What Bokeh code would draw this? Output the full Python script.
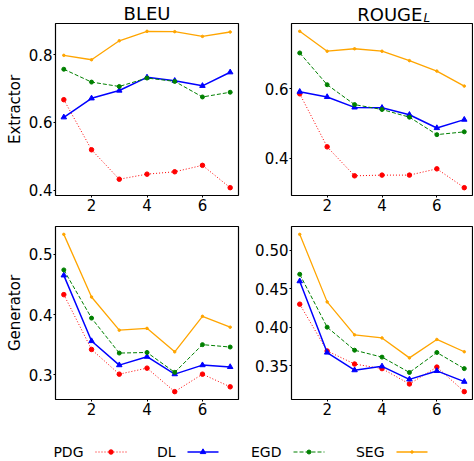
from bokeh.plotting import figure
from bokeh.layouts import column, row
from bokeh.models import Range1d, FixedTicker
from bokeh.core.properties import value
from bokeh.embed import file_html
from bokeh.resources import INLINE

steps = [1, 2, 3, 4, 5, 6, 7]
series_names = ["PDG", "DL", "EGD", "SEG"]
column_titles = ["BLEU", "ROUGE"]
rouge_subscript = "L"

bleu_ext_pdg = [0.667, 0.519, 0.432, 0.447, 0.454, 0.473, 0.407]
bleu_ext_dl = [0.615, 0.671, 0.694, 0.733, 0.723, 0.708, 0.748]
bleu_ext_egd = [0.757, 0.719, 0.706, 0.731, 0.721, 0.675, 0.689]
bleu_ext_seg = [0.798, 0.785, 0.841, 0.869, 0.868, 0.854, 0.867]

rouge_ext_pdg = [0.585, 0.433, 0.350, 0.352, 0.352, 0.370, 0.316]
rouge_ext_dl = [0.591, 0.576, 0.546, 0.545, 0.525, 0.487, 0.511]
rouge_ext_egd = [0.702, 0.611, 0.554, 0.540, 0.518, 0.468, 0.476]
rouge_ext_seg = [0.764, 0.707, 0.714, 0.707, 0.680, 0.650, 0.607]

bleu_gen_pdg = [0.433, 0.342, 0.301, 0.311, 0.272, 0.301, 0.280]
bleu_gen_dl = [0.465, 0.356, 0.316, 0.330, 0.301, 0.316, 0.313]
bleu_gen_egd = [0.474, 0.394, 0.336, 0.337, 0.304, 0.350, 0.346]
bleu_gen_seg = [0.533, 0.429, 0.374, 0.377, 0.338, 0.397, 0.379]

rouge_gen_pdg = [0.430, 0.369, 0.352, 0.346, 0.326, 0.348, 0.316]
rouge_gen_dl = [0.460, 0.367, 0.344, 0.349, 0.332, 0.343, 0.329]
rouge_gen_egd = [0.469, 0.400, 0.370, 0.361, 0.341, 0.367, 0.346]
rouge_gen_seg = [0.521, 0.433, 0.390, 0.386, 0.360, 0.384, 0.368]

x_ticks = [2, 4, 6]
bleu_ext_ticks = [0.4, 0.6, 0.8]
bleu_ext_tick_labels = ["0.4", "0.6", "0.8"]
rouge_ext_ticks = [0.4, 0.6]
rouge_ext_tick_labels = ["0.4", "0.6"]
bleu_gen_ticks = [0.3, 0.4, 0.5]
bleu_gen_tick_labels = ["0.3", "0.4", "0.5"]
rouge_gen_ticks = [0.35, 0.40, 0.45, 0.50]
rouge_gen_tick_labels = ["0.35", "0.40", "0.45", "0.50"]

FONT = "DejaVu Sans"
STYLES = {
    "PDG": dict(color="#ff0000", dash="1 2", width=1.0, marker="circle", size=4.5),
    "DL": dict(color="#0000ff", dash="solid", width=1.5, marker="triangle", size=5.5),
    "EGD": dict(color="#008000", dash="4 2", width=1.0, marker="circle", size=4),
    "SEG": dict(color="#ffa500", dash="solid", width=1.3, marker="circle", size=2.5),
}
W_LEFT, W_RIGHT = 240, 233
W_TOTAL = W_LEFT + W_RIGHT


def make_panel(series, ticks, tick_labels, width, height, mbl, mbr, mbt, mbb, ylabel=None):
    allv = [v for s in series.values() for v in s]
    lo, hi = min(allv), max(allv)
    pad = (hi - lo) * 0.05
    p = figure(width=width, height=height, output_backend="svg", toolbar_location=None,
               x_range=Range1d(0.7, 7.3), y_range=Range1d(lo - pad, hi + pad),
               min_border_left=mbl, min_border_right=mbr, min_border_top=mbt, min_border_bottom=mbb)
    p.grid.visible = False
    p.outline_line_color = "black"
    p.outline_line_width = 1.2
    p.background_fill_color = "white"
    p.border_fill_color = "white"
    for name in series_names:
        st = STYLES[name]
        p.line(steps, series[name], line_color=st["color"], line_width=st["width"], line_dash=st["dash"])
        p.scatter(steps, series[name], marker=st["marker"], size=st["size"],
                  fill_color=st["color"], line_color=st["color"], line_width=1)
    p.xaxis.ticker = FixedTicker(ticks=x_ticks)
    p.yaxis.ticker = FixedTicker(ticks=ticks)
    p.yaxis.major_label_overrides = {t: l for t, l in zip(ticks, tick_labels)}
    for ax in (p.xaxis[0], p.yaxis[0]):
        ax.axis_line_color = None
        ax.minor_tick_line_color = None
        ax.major_tick_line_color = "black"
        ax.major_tick_out = 2
        ax.major_tick_in = 0
        ax.major_label_text_font = FONT
        ax.major_label_text_font_size = "15px"
        ax.major_label_text_color = "black"
    p.yaxis.major_label_standoff = 1
    p.xaxis.major_label_standoff = 1
    if ylabel:
        p.yaxis.axis_label = ylabel
        p.yaxis.axis_label_text_font = FONT
        p.yaxis.axis_label_text_font_size = "15px"
        p.yaxis.axis_label_text_font_style = "normal"
        p.yaxis.axis_label_text_color = "black"
        p.yaxis.axis_label_standoff = 2
    return p


# left panel keeps its own title
p1 = make_panel({"PDG": bleu_ext_pdg, "DL": bleu_ext_dl, "EGD": bleu_ext_egd, "SEG": bleu_ext_seg},
                bleu_ext_ticks, bleu_ext_tick_labels, W_LEFT, 220, 55, 2, 23, 25, "Extractor")
p1.title.text = column_titles[0]
p1.title.align = "center"
p1.title.standoff = 0
p1.title.vertical_align = "bottom"
p1.title.text_font = FONT
p1.title.text_font_size = "18px"
p1.title.text_font_style = "normal"
p1.title.text_color = "black"

# right column: header strip with ROUGE + subscript L, then the panel
HEAD_H = 22
head = figure(width=W_RIGHT, height=HEAD_H, output_backend="svg", toolbar_location=None,
              x_range=Range1d(0, W_RIGHT), y_range=Range1d(HEAD_H, 0),
              x_axis_location=None, y_axis_location=None,
              min_border_left=0, min_border_right=0, min_border_top=0, min_border_bottom=0)
head.grid.visible = False
head.outline_line_color = None
head.text(x=[168.5], y=[13.5], text=[column_titles[1]], text_align="right", text_baseline="middle",
          text_font=value(FONT), text_font_size="18px", text_color="black")
head.text(x=[170], y=[17.5], text=[rouge_subscript], text_align="left", text_baseline="middle",
          text_font=value(FONT), text_font_size="12px", text_font_style="italic", text_color="black")

p2 = make_panel({"PDG": rouge_ext_pdg, "DL": rouge_ext_dl, "EGD": rouge_ext_egd, "SEG": rouge_ext_seg},
                rouge_ext_ticks, rouge_ext_tick_labels, W_RIGHT, 198, 51, 1, 1, 25)
p3 = make_panel({"PDG": bleu_gen_pdg, "DL": bleu_gen_dl, "EGD": bleu_gen_egd, "SEG": bleu_gen_seg},
                bleu_gen_ticks, bleu_gen_tick_labels, W_LEFT, 201, 55, 2, 6, 22, "Generator")
p4 = make_panel({"PDG": rouge_gen_pdg, "DL": rouge_gen_dl, "EGD": rouge_gen_egd, "SEG": rouge_gen_seg},
                rouge_gen_ticks, rouge_gen_tick_labels, W_RIGHT, 201, 51, 1, 6, 22)

# legend (label first, then handle, like the reference)
LEG_H = 40
leg = figure(width=W_TOTAL, height=LEG_H, output_backend="svg", toolbar_location=None,
             x_range=Range1d(0, W_TOTAL), y_range=Range1d(0, LEG_H),
             x_axis_location=None, y_axis_location=None,
             min_border_left=0, min_border_right=0, min_border_top=0, min_border_bottom=0)
leg.grid.visible = False
leg.outline_line_color = None
handle_starts = [95, 187, 293, 396]
handle_len = 31
ly = 9.5
for name, hs in zip(series_names, handle_starts):
    st = STYLES[name]
    leg.text(x=[hs - 12], y=[ly], text=[name], text_align="right", text_baseline="middle",
             text_font=value(FONT), text_font_size="14px", text_color="black")
    leg.line([hs, hs + handle_len], [ly, ly], line_color=st["color"], line_width=st["width"],
             line_dash=st["dash"])
    leg.scatter([hs + handle_len / 2], [ly], marker=st["marker"], size=st["size"],
                fill_color=st["color"], line_color=st["color"], line_width=1)

layout = column(row(p1, column(head, p2)), row(p3, p4), leg)
open("out.html", "w").write(file_html(layout, INLINE))
